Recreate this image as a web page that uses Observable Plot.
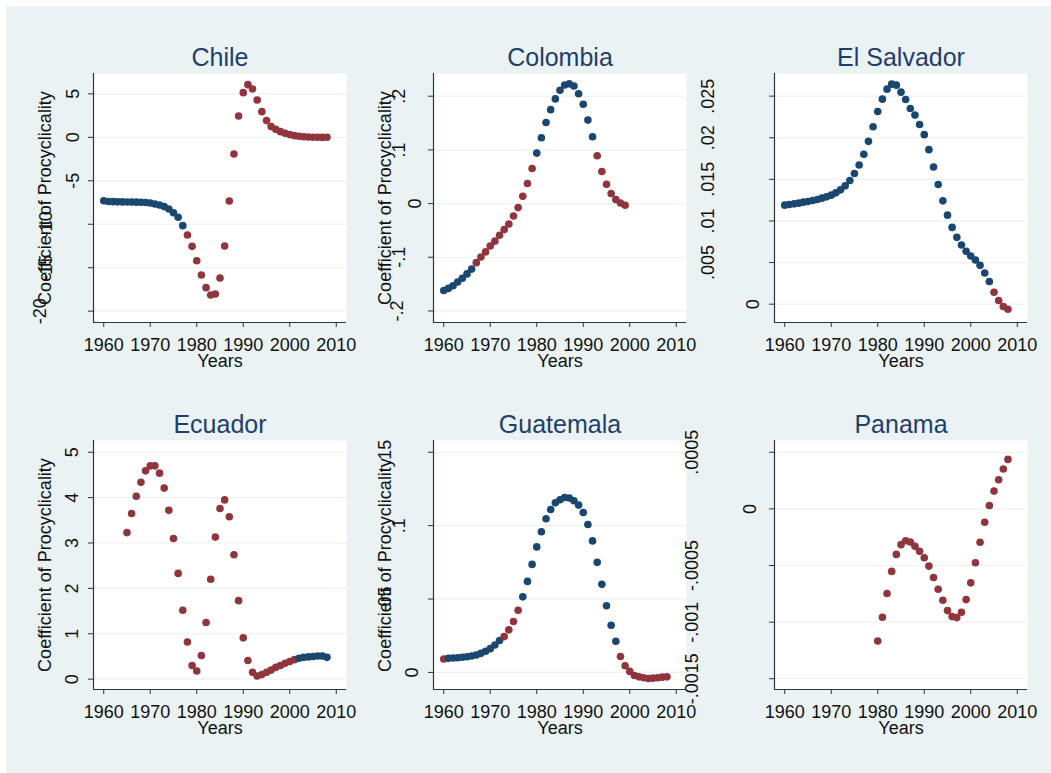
<!DOCTYPE html>
<html>
<head>
<meta charset="utf-8">
<script src="https://cdn.jsdelivr.net/npm/d3@7"></script>
<script src="https://cdn.jsdelivr.net/npm/@observablehq/plot@0.6"></script>
<style>
  html, body { margin: 0; padding: 0; background: #ffffff; }
  #root { position: relative; width: 1051px; height: 773px; overflow: hidden; background: #ffffff; }
  #bg { position: absolute; left: 6px; top: 6px; right: 0; bottom: 0; background: #eaf2f3; }
  .panel { position: absolute; overflow: visible; }
  .panel svg { overflow: visible; max-width: none !important; }
</style>
</head>
<body>
<div id="root"><div id="bg"></div></div>
<script>
// ---------------- DATA ----------------
const xTickValues = [1960, 1970, 1980, 1990, 2000, 2010];
const xTitle = "Years";
const yTitle = "Coefficient of Procyclicality";

// group 1 = navy markers, group 2 = maroon markers
const chileStart = 1960;
const chileValues = [-7.29,-7.38,-7.40,-7.42,-7.43,-7.44,-7.45,-7.46,-7.47,-7.50,
  -7.55,-7.67,-7.78,-7.97,-8.24,-8.67,-9.20,-10.16,-11.23,-12.54,
  -14.19,-15.84,-17.29,-18.14,-18.02,-16.18,-12.50,-7.32,-1.92,2.45,
  5.14,6.06,5.56,4.29,2.95,1.92,1.23,0.92,0.65,0.46,
  0.31,0.19,0.12,0.06,0.03,0.01,0.0,-0.01,0.0];
const chileGroups = [1,1,1,1,1,1,1,1,1,1, 1,1,1,1,1,1,1,1,2,2, 2,2,2,2,2,2,2,2,2,2, 2,2,2,2,2,2,2,2,2,2, 2,2,2,2,2,2,2,2,2];
const chileTicks = [5, 0, -5, -10, -15, -20];
const chileTickLabels = ["5", "0", "-5", "-10", "-15", "-20"];

const colombiaStart = 1960;
const colombiaValues = [-0.162,-0.158,-0.153,-0.146,-0.139,-0.131,-0.122,-0.110,-0.0995,-0.090,
  -0.079,-0.070,-0.059,-0.0485,-0.038,-0.023,-0.0075,0.0137,0.0373,0.0653,
  0.094,0.1225,0.151,0.175,0.195,0.211,0.221,0.223,0.219,0.2047,
  0.185,0.1555,0.1244,0.089,0.0597,0.036,0.0187,0.0075,0.0012,-0.003];
const colombiaGroups = [1,1,1,1,1,1,1,2,2,2, 2,2,2,2,2,2,2,2,2,2, 1,1,1,1,1,1,1,1,1,1, 1,1,1,2,2,2,2,2,2,2];
const colombiaTicks = [0.2, 0.1, 0, -0.1, -0.2];
const colombiaTickLabels = [".2", ".1", "0", "-.1", "-.2"];

const salvadorStart = 1960;
const salvadorValues = [0.0119,0.01198,0.01206,0.01214,0.01226,0.01234,0.01246,0.01258,0.01274,0.0129,
  0.0131,0.01338,0.01374,0.01422,0.01486,0.0157,0.01673,0.01801,0.01957,0.02133,
  0.02316,0.02464,0.02584,0.02644,0.02632,0.02548,0.0246,0.02352,0.02272,0.0216,
  0.02037,0.01857,0.01649,0.01438,0.01242,0.0107,0.00923,0.00803,0.00711,0.00635,
  0.00579,0.00531,0.00467,0.00375,0.00272,0.00144,0.00044,-0.00028,-0.0006];
const salvadorGroups = [1,1,1,1,1,1,1,1,1,1, 1,1,1,1,1,1,1,1,1,1, 1,1,1,1,1,1,1,1,1,1, 1,1,1,1,1,1,1,1,1,1, 1,1,1,1,1,2,2,2,2];
const salvadorTicks = [0.025, 0.02, 0.015, 0.01, 0.005, 0];
const salvadorTickLabels = [".025", ".02", ".015", ".01", ".005", "0"];

const ecuadorStart = 1965;
const ecuadorValues = [3.23,3.65,4.03,4.34,4.59,
  4.70,4.70,4.54,4.21,3.72,3.10,2.33,1.52,0.82,0.30,
  0.18,0.52,1.25,2.20,3.13,3.76,3.95,3.58,2.74,1.73,
  0.91,0.41,0.15,0.07,0.10,0.15,0.20,0.26,0.30,0.35,
  0.39,0.43,0.46,0.48,0.49,0.50,0.51,0.51,0.48];
const ecuadorGroups = [2,2,2,2,2, 2,2,2,2,2,2,2,2,2,2, 2,2,2,2,2,2,2,2,2,2, 2,2,2,2,2,2,2,2,2,2, 2,2,1,1,1,1,1,1,1];
const ecuadorTicks = [5, 4, 3, 2, 1, 0];
const ecuadorTickLabels = ["5", "4", "3", "2", "1", "0"];

const guatemalaStart = 1960;
const guatemalaValues = [0.0091,0.0096,0.0098,0.0100,0.0103,0.0107,0.0112,0.0119,0.0130,0.0144,
  0.0162,0.0187,0.0217,0.0244,0.0290,0.0347,0.0424,0.0515,0.0620,0.0736,
  0.0855,0.0958,0.1047,0.1110,0.1156,0.1176,0.1192,0.1188,0.1170,0.1140,
  0.1090,0.1008,0.0896,0.0750,0.0600,0.0454,0.0321,0.0212,0.0109,0.0046,
  0.0007,-0.0021,-0.0030,-0.0036,-0.0041,-0.0039,-0.0036,-0.0032,-0.0030];
const guatemalaGroups = [2,1,1,1,1,1,1,1,1,1, 1,1,1,2,2,2,2,1,1,1, 1,1,1,1,1,1,1,1,1,1, 1,1,1,1,1,1,1,1,2,2, 2,2,2,2,2,2,2,2,2];
const guatemalaTicks = [0.15, 0.1, 0.05, 0];
const guatemalaTickLabels = [".15", ".1", ".05", "0"];

const panamaStart = 1980;
const panamaValues = [-0.001167,-0.000957,-0.000747,-0.000552,-0.000402,-0.000316,-0.000281,-0.000292,-0.000331,-0.000375,
  -0.000431,-0.000505,-0.000606,-0.000709,-0.000807,-0.000898,-0.000951,-0.00096,-0.000913,-0.000801,
  -0.000653,-0.000476,-0.000295,-0.000118,0.0000295,0.000157,0.000257,0.000352,0.000437];
const panamaGroups = [2,2,2,2,2,2,2,2,2,2, 2,2,2,2,2,2,2,2,2,2, 2,2,2,2,2,2,2,2,2];
const panamaTicks = [0.0005, 0, -0.0005, -0.001, -0.0015];
const panamaTickLabels = [".0005", "0", "-.0005", "-.001", "-.0015"];

// ---------------- LAYOUT / STYLE ----------------
const NAVY = "#1a476f", MAROON = "#90353b", BG = "#eaf2f3";
const FONT = "'Liberation Sans', Arial, Helvetica, sans-serif";
const PW = 253, PH = 249, ML = 100, MR = 25, MT = 45, MB = 55;
const xDomain = [1957.8, 2012.2];

const panels = [
  {name: "Chile", start: chileStart, values: chileValues, groups: chileGroups,
   ticks: chileTicks, labels: chileTickLabels, labelDx: [-20,-20,-20,-47,-47,-53],
   yDomain: [-21.3, 7.34], left: 93, top: 73, showTitle: true},
  {name: "Colombia", start: colombiaStart, values: colombiaValues, groups: colombiaGroups,
   ticks: colombiaTicks, labels: colombiaTickLabels, labelDx: [-34,-34,-18,-34,-36],
   yDomain: [-0.2215, 0.2423], left: 433, top: 73, showTitle: true},
  {name: "El Salvador", start: salvadorStart, values: salvadorValues, groups: salvadorGroups,
   ticks: salvadorTicks, labels: salvadorTickLabels, labelDx: [-66,-66,-66,-66,-66,-21],
   yDomain: [-0.0022, 0.02772], left: 774, top: 73, showTitle: false},
  {name: "Ecuador", start: ecuadorStart, values: ecuadorValues, groups: ecuadorGroups,
   ticks: ecuadorTicks, labels: ecuadorTickLabels, labelDx: [-21,-21,-21,-21,-21,-21],
   yDomain: [-0.228, 5.259], left: 93, top: 440, showTitle: true},
  {name: "Guatemala", start: guatemalaStart, values: guatemalaValues, groups: guatemalaGroups,
   ticks: guatemalaTicks, labels: guatemalaTickLabels, labelDx: [-48,-34,-48,-21],
   yDomain: [-0.01163, 0.158], left: 433, top: 440, showTitle: true},
  {name: "Panama", start: panamaStart, values: panamaValues, groups: panamaGroups,
   ticks: panamaTicks, labels: panamaTickLabels, labelDx: [-82,-24,-82,-82,-82],
   yDomain: [-0.001595, 0.000604], left: 774, top: 440, showTitle: false}
];

const root = document.getElementById("root");
const txt = {fontSize: 18, fill: "#111", textAnchor: "middle", lineAnchor: "middle"};

for (const p of panels) {
  const data = p.values.map((v, i) => ({year: p.start + i, value: v, group: p.groups[i]}));
  const tickRows = p.ticks.map((t, i) => ({t, label: p.labels[i], dx: p.labelDx[i]}));
  const dxGroups = d3.group(tickRows, d => d.dx);

  const marks = [
    Plot.frame({fill: "white", stroke: "none"}),
    Plot.ruleY(p.ticks, {stroke: BG, strokeWidth: 1.2}),
    Plot.ruleX([xDomain[0]], {stroke: "#333", strokeWidth: 1.2}),
    Plot.ruleY([p.yDomain[0]], {stroke: "#333", strokeWidth: 1.2}),
    Plot.axisY(p.ticks, {tickSize: 5, tickFormat: () => "", stroke: "#333", label: null}),
    Plot.axisX(xTickValues, {tickSize: 5, tickFormat: () => "", stroke: "#333", label: null}),
    Plot.text(xTickValues, {...txt, x: d => d, frameAnchor: "bottom", dy: 23, text: d => String(d)}),
    Plot.text([xTitle], {...txt, frameAnchor: "bottom", dy: 39, text: d => d}),
    Plot.text([p.name], {...txt, frameAnchor: "top", dy: -16, text: d => d, fontSize: 25, fill: "#1e3f6b"}),
    Plot.dot(data, {x: "year", y: "value", fill: "group", r: 3.8, stroke: null})
  ];
  if (p.showTitle) {
    marks.push(Plot.text([yTitle], {...txt, frameAnchor: "left", dx: -48, rotate: -90, text: d => d}));
  }
  for (const [dx, rows] of dxGroups) {
    marks.push(Plot.text(rows, {...txt, y: "t", text: "label", frameAnchor: "left", dx: dx, rotate: -90}));
  }

  const chart = Plot.plot({
    width: ML + PW + MR,
    height: MT + PH + MB,
    marginLeft: ML, marginRight: MR, marginTop: MT, marginBottom: MB,
    x: {domain: xDomain, label: null},
    y: {domain: p.yDomain, label: null},
    color: {type: "ordinal", domain: [1, 2], range: [NAVY, MAROON]},
    style: {background: "transparent", overflow: "visible", fontFamily: FONT, fontSize: "18px"},
    marks
  });
  const div = document.createElement("div");
  div.className = "panel";
  div.style.left = (p.left - ML) + "px";
  div.style.top = (p.top - MT) + "px";
  div.style.width = (ML + PW + MR) + "px";
  div.style.height = (MT + PH + MB) + "px";
  div.appendChild(chart);
  root.appendChild(div);
}
</script>
</body>
</html>
